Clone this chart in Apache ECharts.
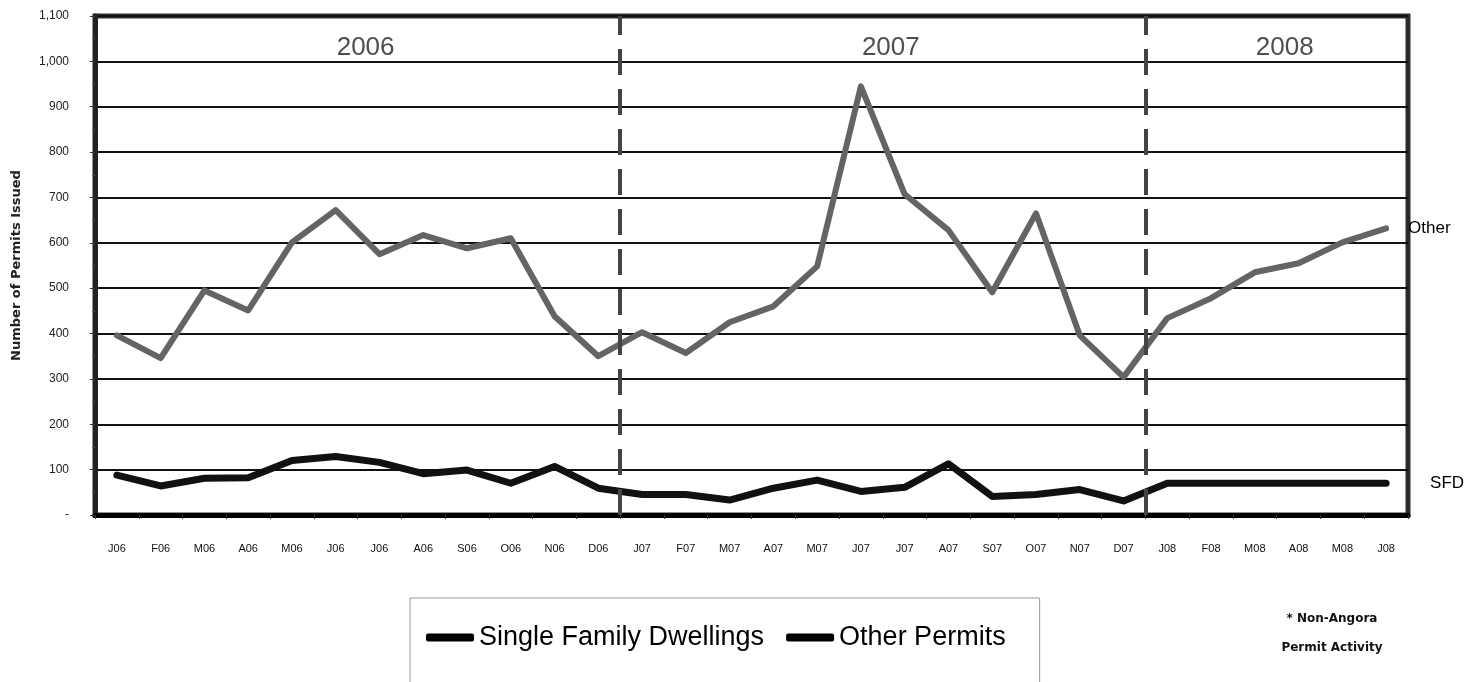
<!DOCTYPE html>
<html>
<head>
<meta charset="utf-8">
<script src="https://cdn.jsdelivr.net/npm/echarts@6/dist/echarts.min.js"></script>
<style>
html,body{margin:0;padding:0;background:#fff;}
#chart{width:1478px;height:682px;}
</style>
</head>
<body>
<div id="chart"></div>
<script>
const categories = ['J06','F06','M06','A06','M06','J06','J06','A06','S06','O06','N06','D06',
  'J07','F07','M07','A07','M07','J07','J07','A07','S07','O07','N07','D07',
  'J08','F08','M08','A08','M08','J08'];
const otherPermits = [396,346,495,451,601,672,575,617,588,610,438,350,
  403,357,425,460,548,945,707,628,491,665,396,304,
  434,478,535,555,601,632];
const singleFamily = [88,64,81,82,120,129,116,91,99,70,107,59,
  45,45,33,59,77,52,61,113,41,45,56,31,
  70,70,70,70,70,70];
const yearNames = ['2006','2007','2008'];
const yearStart = [0,12,24];
const yearEnd = [12,24,30];
const yearDividers = [12,24];
const yTicks = {min:0, max:1100, interval:100};

const narrow = "'Liberation Sans Narrow','Liberation Sans',Arial,sans-serif";
const chart = echarts.init(document.getElementById('chart'));

const yearData = yearNames.map((n,i)=>({name:n, value:[(yearStart[i]+yearEnd[i])/2, 1030]}));

chart.setOption({
  animation:false,
  backgroundColor:'#fff',
  grid:{left:95,right:70,top:16,bottom:167,show:true,borderColor:'#2b2b2b',borderWidth:5,backgroundColor:'#fff'},
  legend:{
    left:410, top:598,
    padding:[26,34,70,16],
    borderColor:'#9a9a9a', borderWidth:1, backgroundColor:'#fff',
    icon:'roundRect', itemWidth:48, itemHeight:8, itemGap:22,
    textStyle:{fontFamily:narrow, fontSize:27, color:'#000'},
    data:[
      {name:'Single Family Dwellings', itemStyle:{color:'#000'}},
      {name:'Other Permits', itemStyle:{color:'#000'}}
    ]
  },
  xAxis:[{
    type:'category', data:categories, boundaryGap:true,
    axisLine:{show:true, lineStyle:{color:'#000', width:5}},
    axisTick:{show:true, length:4, lineStyle:{color:'#333'}},
    axisLabel:{interval:0, margin:28, fontFamily:narrow, fontSize:11, color:'#111'}
  },{
    type:'value', min:0, max:30, show:false
  }],
  yAxis:{
    type:'value', min:yTicks.min, max:yTicks.max, interval:yTicks.interval,
    name:'Number of Permits Issued', nameLocation:'middle', nameGap:72,
    nameTextStyle:{fontFamily:"'DejaVu Sans',sans-serif", fontWeight:'bold', fontSize:13, color:'#222'},
    axisLine:{show:true, lineStyle:{color:'#222', width:5}},
    axisTick:{show:true, length:5, lineStyle:{color:'#333'}},
    minorTick:{show:true, splitNumber:2, length:3, lineStyle:{color:'#555'}},
    axisLabel:{margin:26, fontFamily:"'Liberation Sans',Arial,sans-serif", fontSize:12, color:'#222',
      formatter:v=> v===0 ? '-' : v.toLocaleString('en-US')},
    splitLine:{show:true, lineStyle:{color:'#111', width:2}}
  },
  series:[
    {
      name:'Other Permits', type:'line', data:otherPermits,
      symbol:'none', showSymbol:false,
      lineStyle:{color:'#646464', width:6, join:'round', cap:'round'},
      itemStyle:{color:'#646464'},
      endLabel:{show:true, formatter:'Other', distance:22, fontFamily:narrow, fontSize:17, color:'#000'},
      z:3
    },
    {
      name:'Single Family Dwellings', type:'line', data:singleFamily,
      symbol:'none', showSymbol:false,
      lineStyle:{color:'#111', width:7, join:'round', cap:'round'},
      itemStyle:{color:'#111'},
      endLabel:{show:true, formatter:'SFD', distance:44, fontFamily:narrow, fontSize:17, color:'#000'},
      z:3
    },
    {
      name:'years', type:'scatter', xAxisIndex:1, yAxisIndex:0,
      data:yearData, symbolSize:0, silent:true,
      label:{show:true, position:'inside', offset:[8,0], formatter:p=>p.name, fontFamily:narrow, fontSize:26, color:'#222'},
      markLine:{
        silent:true, symbol:'none',
        label:{show:false},
        lineStyle:{color:'#444', width:4, type:[26,14]},
        data:yearDividers.map(v=>({xAxis:v}))
      },
      z:2
    }
  ],
  graphic:[{
    type:'text', x:1332, y:604,
    style:{text:'* Non-Angora\nPermit Activity', textAlign:'center',
      font:"bold 12px 'DejaVu Sans', sans-serif", lineHeight:29, fill:'#111'}
  }]
});
</script>
</body>
</html>
